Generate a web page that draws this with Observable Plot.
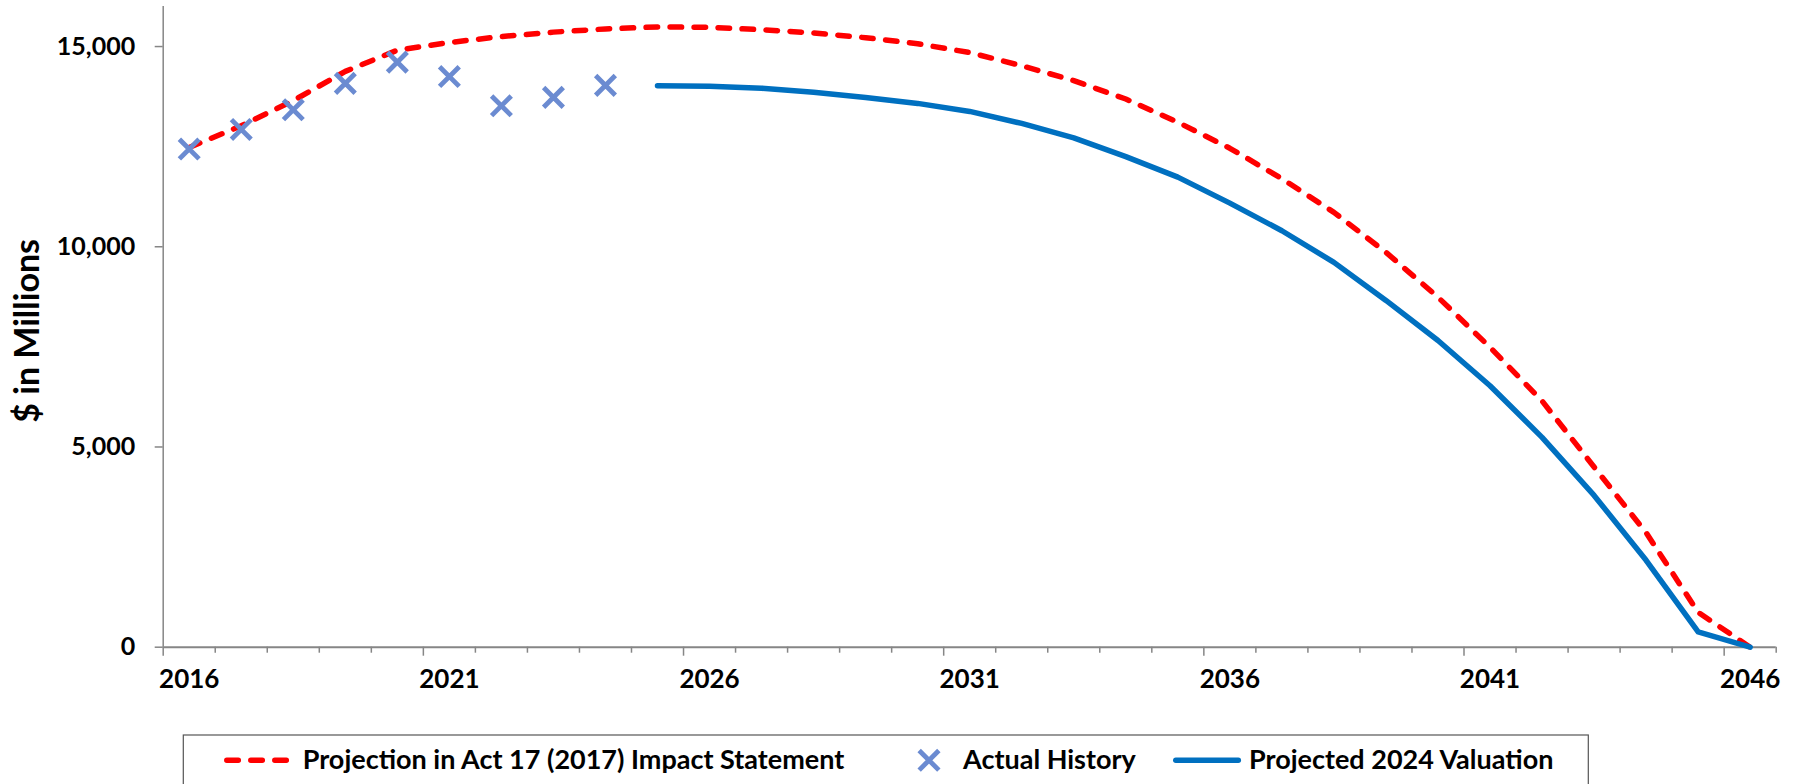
<!DOCTYPE html>
<html>
<head>
<meta charset="utf-8">
<script src="https://cdn.jsdelivr.net/npm/d3@7"></script>
<script src="https://cdn.jsdelivr.net/npm/@observablehq/plot@0.6"></script>
<style>
  html, body { margin: 0; padding: 0; background: #fff; }
  #chart { width: 1794px; height: 784px; overflow: hidden; position: relative; }
  #chart svg { display: block; }
</style>
</head>
<body>
<div id="chart"></div>
<script>
// Fund assets, $ in millions, by fiscal year

// Projection in Act 17 (2017) Impact Statement
const act17Years = [2016, 2017, 2018, 2019, 2020, 2021, 2022, 2023, 2024, 2025,
  2026, 2027, 2028, 2029, 2030, 2031, 2032, 2033, 2034, 2035,
  2036, 2037, 2038, 2039, 2040, 2041, 2042, 2043, 2044, 2045, 2046];
const act17Values = [12480, 13020, 13650, 14380, 14910, 15100, 15250, 15360, 15440, 15490,
  15480, 15420, 15340, 15220, 15070, 14850, 14520, 14150, 13690, 13110,
  12460, 11700, 10860, 9860, 8740, 7490, 6150, 4500, 2860, 870, 0];

// Actual History
const historyYears = [2016, 2017, 2018, 2019, 2020, 2021, 2022, 2023, 2024];
const historyValues = [12440, 12930, 13420, 14080, 14610, 14250, 13520, 13730, 14030];

// Projected 2024 Valuation
const valuationYears = [2025, 2026, 2027, 2028, 2029, 2030, 2031, 2032, 2033, 2034, 2035,
  2036, 2037, 2038, 2039, 2040, 2041, 2042, 2043, 2044, 2045, 2046];
const valuationValues = [14020, 14010, 13960, 13860, 13730, 13580, 13380, 13080, 12720, 12250, 11740,
  11090, 10400, 9610, 8660, 7660, 6530, 5240, 3790, 2170, 380, 0];

// Axis ticks and labels
const yTicks = [0, 5000, 10000, 15000];
const xLabelYears = [2016, 2021, 2026, 2031, 2036, 2041, 2046];
const xMajorBounds = [2015.5, 2020.5, 2025.5, 2030.5, 2035.5, 2040.5, 2045.5];
const xMinorBounds = [2016.5, 2017.5, 2018.5, 2019.5, 2021.5, 2022.5, 2023.5, 2024.5,
  2026.5, 2027.5, 2028.5, 2029.5, 2031.5, 2032.5, 2033.5, 2034.5, 2036.5, 2037.5,
  2038.5, 2039.5, 2041.5, 2042.5, 2043.5, 2044.5, 2046.5];
const yLabel = "$ in Millions";

const legendItems = [
  {label: "Projection in Act 17 (2017) Impact Statement", kind: "dash"},
  {label: "Actual History", kind: "cross"},
  {label: "Projected 2024 Valuation", kind: "line"}
];

const RED = "#FF0000";
const MARKER = "#6B8BD1";
const BLUE = "#0070C0";
const AXIS = "#868686";
const FONT = "Lato, 'Open Sans', sans-serif";

const act17 = act17Years.map((year, i) => ({year, value: act17Values[i]}));
const history = historyYears.map((year, i) => ({year, value: historyValues[i]}));
const valuation = valuationYears.map((year, i) => ({year, value: valuationValues[i]}));

const chart = Plot.plot({
  width: 1794,
  height: 700,
  marginLeft: 162.7,
  marginRight: 18.3,
  marginTop: 6,
  marginBottom: 53.3,
  style: {fontFamily: FONT, fontWeight: "bold", fontSize: "25px", color: "#000", background: "#fff"},
  x: {type: "linear", domain: [2015.5, 2046.5]},
  y: {type: "linear", domain: [0, 16000]},
  marks: [
    // axis lines
    Plot.ruleX([2015.5], {stroke: AXIS, strokeWidth: 1.5}),
    Plot.ruleY([0], {stroke: AXIS, strokeWidth: 2}),
    // category boundary ticks
    Plot.axisX(xMinorBounds, {tickSize: 6, tickFormat: () => "", stroke: AXIS, strokeWidth: 1.5, label: null}),
    Plot.axisX(xMajorBounds, {tickSize: 9, tickFormat: () => "", stroke: AXIS, strokeWidth: 1.5, label: null}),
    // year labels centred on categories
    Plot.axisX(xLabelYears, {tickSize: 0, tickPadding: 22.3, tickFormat: "d", fill: "#000",
      fontSize: 26, fontWeight: "bold", label: null}),
    Plot.axisY(yTicks, {tickSize: 8, tickPadding: 20, tickFormat: d3.format(","), stroke: AXIS,
      strokeWidth: 1.5, fill: "#000", fontSize: 25, fontWeight: "bold", label: null}),
    Plot.text([yLabel], {frameAnchor: "left", textAnchor: "middle", dx: -135, dy: 4, rotate: -90,
      fontSize: 34, fontWeight: "bold", fill: "#000"}),
    // series
    Plot.line(act17, {x: "year", y: "value", stroke: RED, strokeWidth: 5.5,
      strokeDasharray: "11.5,12.5", strokeLinecap: "round", strokeLinejoin: "round"}),
    Plot.line(valuation, {x: "year", y: "value", stroke: BLUE, strokeWidth: 5.5,
      strokeLinecap: "round", strokeLinejoin: "round"}),
    Plot.dot(history, {x: "year", y: "value", symbol: "times", r: 9, stroke: MARKER, strokeWidth: 4.8})
  ]
});

const root = document.getElementById("chart");
root.appendChild(chart);

// Legend strip below the plot
const legend = d3.select(root).append("svg")
  .attr("width", 1794)
  .attr("height", 84)
  .style("font-family", FONT)
  .style("font-weight", "bold")
  .style("font-size", "27px");

legend.append("rect")
  .attr("x", 183.3).attr("y", 35)
  .attr("width", 1405).attr("height", 70)
  .attr("fill", "#fff").attr("stroke", "#555").attr("stroke-width", 1.2);

const cy = 60.3;
const itemLayout = [
  {symbolX: [226.8, 286.3], textX: 302.7},
  {symbolX: [929], textX: 963},
  {symbolX: [1175.8, 1238.3], textX: 1249}
];

legendItems.forEach((item, i) => {
  const lay = itemLayout[i];
  if (item.kind === "dash") {
    legend.append("line")
      .attr("x1", lay.symbolX[0]).attr("x2", lay.symbolX[1]).attr("y1", cy).attr("y2", cy)
      .attr("stroke", RED).attr("stroke-width", 5.5)
      .attr("stroke-dasharray", "11.5,12.5").attr("stroke-linecap", "round");
  } else if (item.kind === "line") {
    legend.append("line")
      .attr("x1", lay.symbolX[0]).attr("x2", lay.symbolX[1]).attr("y1", cy).attr("y2", cy)
      .attr("stroke", BLUE).attr("stroke-width", 5.5).attr("stroke-linecap", "round");
  } else {
    legend.append("path")
      .attr("transform", `translate(${lay.symbolX[0]},${cy})`)
      .attr("d", d3.symbol(d3.symbolTimes, 9 * 9 * Math.PI)())
      .attr("fill", "none").attr("stroke", MARKER).attr("stroke-width", 4.8);
  }
  legend.append("text")
    .attr("x", lay.textX).attr("y", 69)
    .attr("fill", "#000")
    .text(item.label);
});
</script>
</body>
</html>
